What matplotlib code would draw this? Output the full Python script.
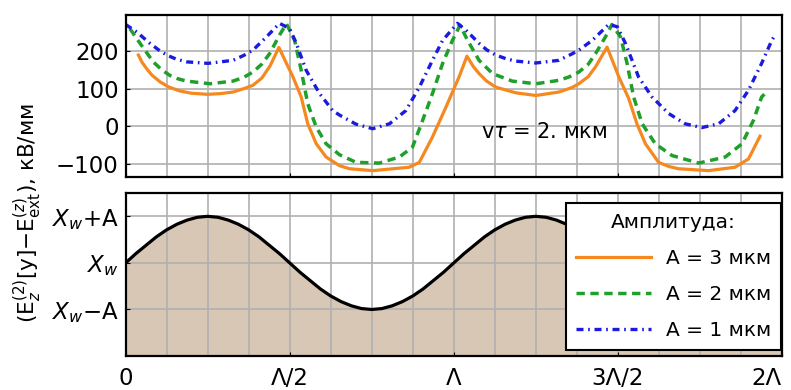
import matplotlib
matplotlib.use("Agg")
import matplotlib.pyplot as plt
from matplotlib.ticker import MultipleLocator

plt.rcParams['font.family'] = ['DejaVu Sans']
plt.rcParams['mathtext.fontset'] = 'dejavusans'

# ---- data (x in units of Λ) ----
x_a3 = [0.039, 0.05, 0.064, 0.08, 0.105, 0.13, 0.165, 0.2, 0.25, 0.29, 0.327, 0.36, 0.388, 0.415,
        0.44, 0.467, 0.51, 0.535, 0.555, 0.581, 0.611, 0.652, 0.682, 0.753, 0.864, 0.895, 0.935,
        0.976, 1.016, 1.040, 1.06, 1.077, 1.1, 1.128, 1.189, 1.25, 1.32, 1.36, 1.381, 1.41, 1.432,
        1.467, 1.503, 1.533, 1.558, 1.584, 1.624, 1.655, 1.685, 1.776, 1.857, 1.898, 1.933]
y_a3 = [189, 170, 153, 136, 118, 105, 94, 88, 85, 87, 91, 100, 109, 128,
        160, 209, 131, 78, 7, -46, -81, -104, -112, -117, -108, -95, -28,
        51, 131, 186, 158, 140, 120, 104, 89, 82, 91, 103, 113, 132, 158,
        210, 131, 74, 7, -46, -95, -106, -112, -117, -108, -86, -26]

x_a2 = [0.013, 0.044, 0.084, 0.11, 0.135, 0.16, 0.186, 0.257, 0.327, 0.36, 0.388, 0.415, 0.439,
        0.469, 0.490, 0.515, 0.535, 0.555, 0.581, 0.611, 0.652, 0.702, 0.773, 0.834, 0.874, 0.905,
        0.935, 0.966, 0.996, 1.019, 1.042, 1.077, 1.118, 1.178, 1.25, 1.32, 1.351, 1.381, 1.41,
        1.432, 1.462, 1.482, 1.508, 1.528, 1.548, 1.574, 1.614, 1.665, 1.746, 1.827, 1.878, 1.913,
        1.938, 1.953]
y_a2 = [259, 220, 171, 150, 135, 126, 120, 113, 120, 130, 144, 165, 193,
        242, 272, 228, 149, 60, -2, -46, -75, -95, -97, -81, -55, 16,
        87, 167, 228, 268, 228, 175, 140, 120, 113, 122, 131, 144, 165,
        193, 237, 270, 237, 167, 78, 7, -46, -77, -97, -81, -46, 16,
        78, 91]

x_a1 = [0.0, 0.034, 0.074, 0.1, 0.125, 0.155, 0.186, 0.251, 0.327, 0.36, 0.388, 0.429, 0.469,
        0.5, 0.520, 0.550, 0.591, 0.631, 0.652, 0.702, 0.753, 0.804, 0.854, 0.895, 0.935, 0.966,
        1.011, 1.037, 1.077, 1.1, 1.128, 1.16, 1.189, 1.25, 1.32, 1.36, 1.381, 1.422, 1.472, 1.498,
        1.523, 1.563, 1.604, 1.655, 1.705, 1.756, 1.807, 1.857, 1.898, 1.938, 1.969, 1.979]
y_a1 = [270, 250, 220, 203, 189, 178, 171, 167, 175, 188, 202, 237, 273,
        259, 220, 149, 87, 42, 30, 6, -6, 7, 42, 104, 175, 228,
        273, 255, 220, 203, 189, 179, 173, 168, 175, 192, 202, 228, 270, 264,
        220, 131, 78, 34, 7, -3, 7, 42, 96, 167, 228, 242]

# domain wall position (units: Xw = 0, A = 1)
x_wall = [i / 32 for i in range(65)]
y_wall_half = [0, 0.2, 0.38, 0.56, 0.71, 0.83, 0.92, 0.98, 1, 0.98, 0.92, 0.83, 0.71, 0.56, 0.38, 0.2,
               0, -0.2, -0.38, -0.56, -0.71, -0.83, -0.92, -0.98, -1, -0.98, -0.92, -0.83, -0.71,
               -0.56, -0.38, -0.2]
y_wall = y_wall_half + y_wall_half + [0]

x_ticks = [0, 0.5, 1, 1.5, 2]
x_ticklabels = ['0', 'Λ/2', 'Λ', '3Λ/2', '2Λ']
y1_ticks = [-100, 0, 100, 200]
y2_ticks = [-1, 0, 1]
y2_ticklabels = [r'$X_w$−A', r'$X_w$', r'$X_w$+A']
labels = ['A = 3 мкм', 'A = 2 мкм', 'A = 1 мкм']

c_or, c_gr, c_bl = '#f5891f', '#1fa02a', '#1a1ae0'
grid_c = '#b0b0b0'

fig = plt.figure(figsize=(7.91, 3.90), dpi=100)
ax1 = fig.add_axes([0.1588, 0.546, 0.8298, 0.4155])
ax2 = fig.add_axes([0.1588, 0.087, 0.8298, 0.418])

for ax in (ax1, ax2):
    ax.set_xlim(0, 2)
    ax.set_xticks(x_ticks)
    ax.xaxis.set_minor_locator(MultipleLocator(0.125))
    ax.set_axisbelow('line')
    ax.grid(True, which='both', axis='x', color=grid_c, lw=1.2)
    ax.grid(True, which='major', axis='y', color=grid_c, lw=1.2)
    for s in ax.spines.values():
        s.set_linewidth(1.6)
        s.set_color('black')
    ax.tick_params(which='both', direction='in', length=3, width=0.8, labelsize=16.5, pad=5)
    ax.tick_params(which='minor', length=0)

# top panel
l1, = ax1.plot(x_a3, y_a3, color=c_or, lw=2.3, solid_joinstyle='round')
l2, = ax1.plot(x_a2, y_a2, color=c_gr, lw=2.5, dashes=(2.4, 1.6))
l3, = ax1.plot(x_a1, y_a1, color=c_bl, lw=2.4, dashes=(2.1, 1.4, 0.5, 1.4))
ax1.set_ylim(-134, 295)
ax1.set_yticks(y1_ticks)
ax1.tick_params(axis='x', labelbottom=False)
ax1.text(1.275, -16, r'v$\tau$ = 2. мкм', fontsize=15, ha='center', va='center')

# bottom panel
ax2.fill_between(x_wall, y_wall, -2, color='#d9c7b6', lw=0, zorder=1)
ax2.plot(x_wall, y_wall, color='black', lw=2.3, zorder=2)
ax2.set_ylim(-2, 1.5)
ax2.set_yticks(y2_ticks)
ax2.set_yticklabels(y2_ticklabels)
ax2.set_xticklabels(x_ticklabels)
ax2.tick_params(axis='x', pad=8)
ax2.get_xticklabels()[-1].set_horizontalalignment('right')

leg = ax2.legend([l1, l2, l3], labels, title='Амплитуда:', loc='upper right',
                 bbox_to_anchor=(0.9985, 0.94), borderaxespad=0, fontsize=14.5,
                 title_fontsize=14.5, handlelength=3.7, handletextpad=0.75,
                 labelspacing=0.85, fancybox=False, framealpha=1, edgecolor='black',
                 borderpad=0.5)
leg.get_frame().set_linewidth(1.5)
leg.set_zorder(5)

fig.text(28 / 791, 1 - 213 / 390,
         r'$(\mathrm{E}_z^{(2)}\mathrm{[y]}{-}\mathrm{E}_{\mathrm{ext}}^{(z)})$, кВ/мм',
         rotation=90, ha='center', va='center', fontsize=15.5)

fig.savefig('out.png', dpi=100)
